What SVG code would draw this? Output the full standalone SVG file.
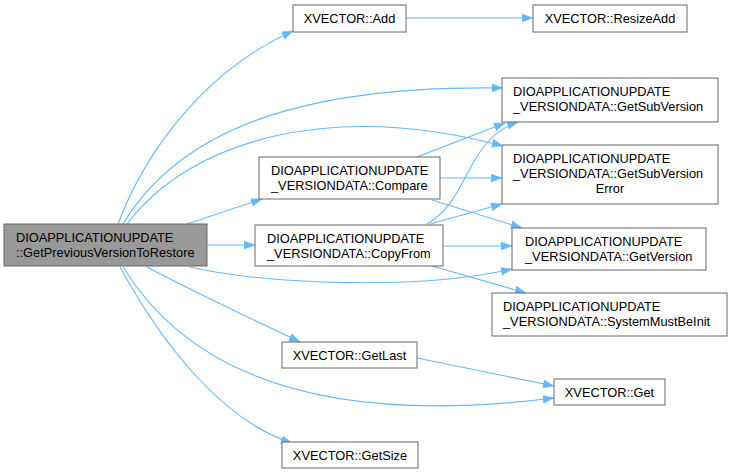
<svg xmlns="http://www.w3.org/2000/svg" width="733" height="475" viewBox="0 0 733 475">
<style>
.n rect{fill:#ffffff;stroke:#666666;stroke-width:1}
.n.main rect{fill:#999999}
text{font-family:"Liberation Sans",Arial,sans-serif;font-size:12.8px;fill:#000000}
.c{text-anchor:middle}
.e path{fill:none;stroke:#63b8ff;stroke-width:1.1;marker-end:url(#ah)}
</style>
<defs>
<marker id="ah" markerUnits="userSpaceOnUse" markerWidth="12" markerHeight="9" refX="11" refY="4" orient="auto">
<path d="M0,0 L11,4 L0,8 z" fill="#63b8ff" stroke="#63b8ff" stroke-width="0.5"/>
</marker>
</defs>
<rect width="733" height="475" fill="#ffffff"/>
<g id="edges" class="e">
<path d="M118,224 C140,165 195,75 293,31"/>
<path d="M123,224 C180,130 300,85 503,88"/>
<path d="M127,224 C190,140 330,100 503,146"/>
<path d="M187,224 L262,199"/>
<path d="M207,245 L255,245"/>
<path d="M190,267 C270,285 420,290 512,269"/>
<path d="M147,267 C200,295 250,318 300,342"/>
<path d="M123,267 C180,360 300,430 554,398"/>
<path d="M120,267 C160,340 220,420 292,443"/>
<path d="M417,157 L505,123"/>
<path d="M440,178 L502,178"/>
<path d="M432,200 L522,228"/>
<path d="M427,224 C470,200 465,140 518,122"/>
<path d="M430,224 L502,204"/>
<path d="M443,246 L512,246"/>
<path d="M432,266 L526,293"/>
<path d="M406,18 L533,18"/>
<path d="M417,358 L554,386"/>
</g>
<g id="main" class="n main">
<rect x="4" y="224" width="203" height="42"/>
<text x="16" y="241.5">DIOAPPLICATIONUPDATE</text>
<text x="16" y="256.5">::GetPreviousVersionToRestore</text>
</g>
<g id="add" class="n">
<rect x="293" y="5" width="113" height="27"/>
<text class="c" x="349.5" y="23">XVECTOR::Add</text>
</g>
<g id="resizeadd" class="n">
<rect x="533" y="5" width="154" height="27"/>
<text class="c" x="610" y="23">XVECTOR::ResizeAdd</text>
</g>
<g id="compare" class="n">
<rect x="259" y="157" width="181" height="42"/>
<text x="271" y="175">DIOAPPLICATIONUPDATE</text>
<text x="271" y="190">_VERSIONDATA::Compare</text>
</g>
<g id="copyfrom" class="n">
<rect x="255" y="225" width="188" height="41"/>
<text x="267" y="243">DIOAPPLICATIONUPDATE</text>
<text x="267" y="258">_VERSIONDATA::CopyFrom</text>
</g>
<g id="getsubversion" class="n">
<rect x="502" y="78" width="216" height="44"/>
<text x="513" y="96">DIOAPPLICATIONUPDATE</text>
<text x="513" y="111">_VERSIONDATA::GetSubVersion</text>
</g>
<g id="getsubversionerror" class="n">
<rect x="502" y="145" width="216" height="59"/>
<text x="513" y="163">DIOAPPLICATIONUPDATE</text>
<text x="513" y="178">_VERSIONDATA::GetSubVersion</text>
<text class="c" x="610" y="193">Error</text>
</g>
<g id="getversion" class="n">
<rect x="512" y="228" width="194" height="42"/>
<text x="525" y="246">DIOAPPLICATIONUPDATE</text>
<text x="525" y="261">_VERSIONDATA::GetVersion</text>
</g>
<g id="systemmustbeinit" class="n">
<rect x="492" y="293" width="235" height="43"/>
<text x="503" y="311">DIOAPPLICATIONUPDATE</text>
<text x="503" y="326">_VERSIONDATA::SystemMustBeInit</text>
</g>
<g id="getlast" class="n">
<rect x="282" y="342" width="135" height="26"/>
<text class="c" x="349.5" y="359.5">XVECTOR::GetLast</text>
</g>
<g id="get" class="n">
<rect x="554" y="379" width="111" height="26"/>
<text class="c" x="609.5" y="396.5">XVECTOR::Get</text>
</g>
<g id="getsize" class="n">
<rect x="282" y="442" width="136" height="26"/>
<text class="c" x="350" y="459.5">XVECTOR::GetSize</text>
</g>
</svg>
